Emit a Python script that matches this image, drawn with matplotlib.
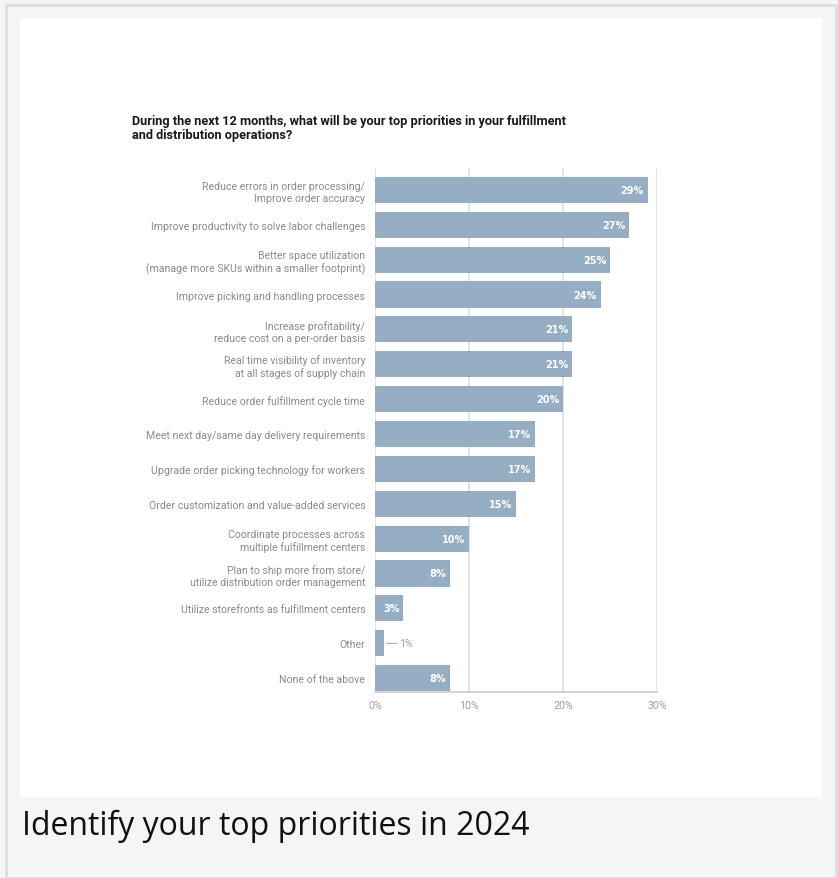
import matplotlib
matplotlib.use("Agg")
import matplotlib.pyplot as plt
from matplotlib.patches import Rectangle

categories = [
    "Reduce errors in order processing/\nImprove order accuracy",
    "Improve productivity to solve labor challenges",
    "Better space utilization\n(manage more SKUs within a smaller footprint)",
    "Improve picking and handling processes",
    "Increase profitability/\nreduce cost on a per-order basis",
    "Real time visibility of inventory\nat all stages of supply chain",
    "Reduce order fulfillment cycle time",
    "Meet next day/same day delivery requirements",
    "Upgrade order picking technology for workers",
    "Order customization and value-added services",
    "Coordinate processes across\nmultiple fulfillment centers",
    "Plan to ship more from store/\nutilize distribution order management",
    "Utilize storefronts as fulfillment centers",
    "Other",
    "None of the above",
]
values = [29, 27, 25, 24, 21, 21, 20, 17, 17, 15, 10, 8, 3, 1, 8]
xticks = [0, 10, 20, 30]
xtick_labels = ["0%", "10%", "20%", "30%"]
title = "During the next 12 months, what will be your top priorities in your fulfillment\nand distribution operations?"
caption = "Identify your top priorities in 2024"

W, H = 838, 879
fig = plt.figure(figsize=(W / 100, H / 100), dpi=100)
fig.patch.set_facecolor("#f5f5f5")

# outer border and white panel (behind axes)
fig.patches.append(Rectangle((6 / W, 0), 830 / W, (H - 6) / H, transform=fig.transFigure,
                             facecolor="none", edgecolor="#dedede", lw=2, zorder=-5))
fig.patches.append(Rectangle((20 / W, 1 - 798 / H), 802 / W, 779 / H, transform=fig.transFigure,
                             facecolor="white", edgecolor="none", zorder=-4))

x0, x1 = 375, 657
ytop, ybot = 170, 693
ax = fig.add_axes([x0 / W, 1 - ybot / H, (x1 - x0) / W, (ybot - ytop) / H])
ax.set_zorder(5)
ax.set_facecolor("none")
n = len(values)
pos = list(range(n))
bar_color = "#95aec3"
ax.barh(pos, values, height=0.75, color=bar_color, zorder=3)
ax.set_ylim(n - 1 + 0.4, -0.6)
ax.set_xlim(0, 30)

for v in xticks:
    ax.axvline(v, color="#e0e0e0", lw=1.3, zorder=1)

for s in ["top", "right", "left"]:
    ax.spines[s].set_visible(False)
ax.spines["bottom"].set_color("#cccccc")
ax.spines["bottom"].set_linewidth(1.2)

ax.set_xticks(xticks)
ax.set_xticklabels(xtick_labels)
ax.tick_params(axis="x", length=0, pad=6, labelsize=7.7, labelcolor="#a0a0a0")
ax.set_yticks(pos)
ax.set_yticklabels(categories, fontsize=7.6, color="#8a8a8a", linespacing=1.25)
ax.tick_params(axis="y", length=0, pad=7)
for lab in ax.get_xticklabels() + ax.get_yticklabels():
    lab.set_family("Roboto")

for p, v in zip(pos, values):
    if v >= 3:
        ax.text(v - 0.4, p, f"{v}%", ha="right", va="center", color="white",
                fontsize=7, fontweight="bold", family="DejaVu Sans", zorder=4)
    else:
        ax.plot([v + 0.2, v + 1.3], [p, p], color="#b0b0b0", lw=0.8, zorder=4)
        ax.text(v + 1.6, p, f"{v}%", ha="left", va="center", color="#a0a0a0",
                fontsize=7.7, family="Roboto", zorder=4)

fig.text(132 / W, 1 - 115 / H, title, ha="left", va="top", fontsize=9.2,
         fontweight="bold", color="#1a1a1a", family="Roboto", linespacing=1.1)

fig.text(22 / W, 1 - 826 / H, caption, ha="left", va="center", fontsize=23,
         color="#111111", family="Open Sans")

fig.savefig("out.png", dpi=100, facecolor=fig.get_facecolor())
